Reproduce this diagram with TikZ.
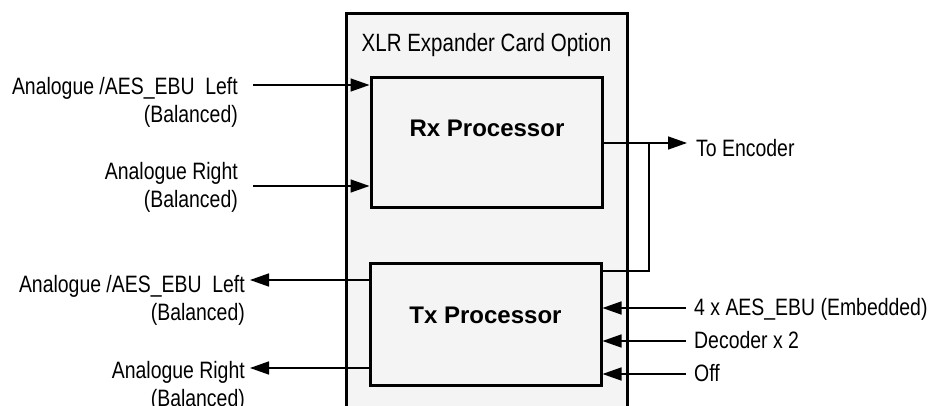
\documentclass[tikz,border=0pt]{standalone}
\usepackage{fontspec}
\setmainfont{Liberation Sans}
\newfontfamily\narrowfont[FakeStretch=0.82]{Liberation Sans}
\usepackage{tikz}
\usetikzlibrary{arrows.meta,calc,positioning}
\definecolor{cardgray}{HTML}{F4F4F4}
\tikzset{
    cardline/.style={draw=black,line width=3pt},
    procbox/.style={draw=black,fill=cardgray,line width=3pt,inner sep=0pt},
    proctext/.style={font=\fontsize{24}{28}\selectfont\bfseries,anchor=base,inner sep=0pt},
    sig/.style={line width=1.5pt,draw=black},
    sigarrow/.style={sig,-{Triangle[length=19pt,width=13pt]}},
    lbl/.style={font=\narrowfont\fontsize{23.7}{28}\selectfont,inner sep=0pt}
}
\begin{document}
\begin{tikzpicture}[x=1pt,y=-1pt]
  \useasboundingbox (0,0) rectangle (928,406);
  \coordinate (cardTL) at (346,14);
  \coordinate (cardTR) at (627,14);
  \fill[cardgray] (cardTL) rectangle (627,420);
  \draw[cardline] (346,420) -- (cardTL) -- (cardTR) -- (627,420);
  \node[lbl,anchor=base] (title) at (486.5,52) {\fontsize{25}{30}\selectfont XLR Expander Card Option};
  \node[procbox,minimum width=231pt,minimum height=129pt] (rx) at (486.5,142.5) {};
  \node[procbox,minimum width=231pt,minimum height=122pt] (tx) at (485.5,324) {};
  \node[proctext] (rxname) at (487,137) {Rx Processor};
  \node[proctext] (txname) at (485.5,323) {Tx Processor};
  \coordinate (inL) at (253,85);
  \coordinate (inR) at (253,186);
  \draw[sigarrow] (inL) -- (inL -| rx.west);
  \draw[sigarrow] (inR) -- (inR -| rx.west);
  \node[lbl,align=right,anchor=north east] (inLtxt) at (238,77.5) {Analogue /AES\_EBU\ \ Left\\(Balanced)};
  \node[lbl,align=right,anchor=north east] (inRtxt) at (238,162.5) {Analogue Right\\(Balanced)};
  \coordinate (enc) at (687,143);
  \coordinate (tap) at (649,143);
  \draw[sigarrow] (rx.east |- enc) -- (enc);
  \draw[sig] (tx.east |- 0,271) -| (tap);
  \node[lbl,anchor=base west] (enctxt) at (696,157) {To Encoder};
  \coordinate (outL) at (250,280);
  \coordinate (outR) at (250,368);
  \draw[sigarrow] (outL -| tx.west) -- (outL);
  \draw[sigarrow] (outR -| tx.west) -- (outR);
  \node[lbl,align=right,anchor=north east] (outLtxt) at (245,275.5) {Analogue /AES\_EBU\ \ Left\\(Balanced)};
  \node[lbl,align=right,anchor=north east] (outRtxt) at (245,361.5) {Analogue Right\\(Balanced)};
  \foreach \y/\nm/\txt in {308/aes/{4 x AES\_EBU (Embedded)},341/dec/{Decoder x 2},374/off/{Off}}{
    \coordinate (\nm) at (686,\y);
    \draw[sigarrow] (\nm) -- (\nm -| tx.east);
    \node[lbl,anchor=base west] (txt\nm) at (694,\y+7) {\txt};
  }
\end{tikzpicture}
\end{document}
